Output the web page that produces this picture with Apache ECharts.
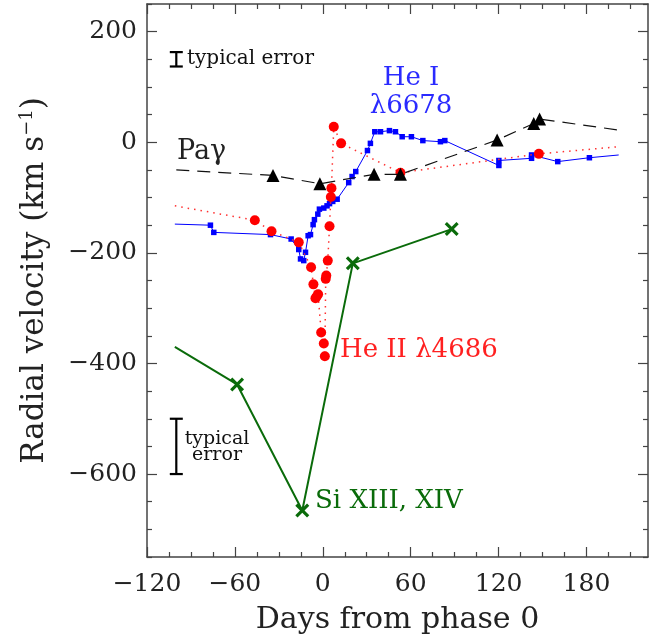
<!DOCTYPE html>
<html>
<head>
<meta charset="utf-8">
<script src="https://cdn.jsdelivr.net/npm/echarts@6/dist/echarts.min.js"></script>
<style>html,body{margin:0;padding:0;background:#fff}#c{width:654px;height:641px}</style>
</head>
<body>
<div id="c"></div>
<script>
// ---- Data (days from phase 0, radial velocity km/s) ----
// Pa gamma (black triangles) + dashed line end points
const paDays = [-34, -2, 35, 53, 119, 144, 148];
const paVel  = [-60, -75, -58, -58, 4, 34, 42];
const paStart = [-100, -50];
const paEnd   = [202, 22];

// He I 6678 (blue squares)
const heIDays = [-76.7, -74.4, -35.7, -21.6, -16.4, -15.2, -13, -11.8, -10, -8.4, -6.6, -5.7, -3.4, -2.3, 0.7, 2.9, 4.6, 6.8, 9.8, 17.7, 20, 22.5, 30.5, 32.5, 35.5, 39.4, 45.5, 49.6, 54.2, 60.5, 68.3, 80.3, 83.3, 120.2, 120.2, 142.5, 142.5, 160.4, 182];
const heIVel  = [-150, -163, -167, -175, -194, -211, -214, -199, -169, -167, -149, -140, -130, -121, -119, -115, -111, -107, -103, -73, -62, -53, -15, -2, 19, 19, 21, 19, 10, 10, 3, 1, 3, -42, -33, -29, -23, -35, -28];
const heIStart = [-101, -148];
const heIEnd   = [202, -23];

// He II 4686 (red circles)
const heIIDays = [-46.4, -35, -16.4, -8, -6.4, -5, -4.2, -3.2, -1.1, 0.7, 1.4, 2.0, 2.4, 3.4, 4.6, 5.5, 5.9, 7.5, 12.5, 53, 147.5];
const heIIVel  = [-141, -161, -181, -226, -257, -282, -279, -275, -344, -364, -387, -247, -241, -214, -152, -99, -83, 28, -2, -55, -21];
const heIIStart = [-101, -115];
const heIIEnd   = [202, -8];

// Si XIII, XIV (green crosses)
const siDays = [-58.5, -14, 20.5, 88];
const siVel  = [-438, -666, -219, -157];
const siStart = [-101, -370];

// Typical error bars: [day, low, high]
const errBars = [[-100, 137, 163], [-100, -600, -500]];

// Axis ticks
const xTickLabels = [-120, -60, 0, 60, 120, 180];
const yTickLabels = [-600, -400, -200, 0, 200];
const xMin = -120, xMax = 222, yMin = -750, yMax = 250;

// ---- Build ----
const FONT = 'DejaVu Serif';
const AX = '#444';
function fmt(v){ return v < 0 ? '\u2212' + Math.abs(v) : String(v); }
const xMinor = [], yMinor = [];
for (let v = -120; v <= 220; v += 15) if (xTickLabels.indexOf(v) < 0) xMinor.push(v);
for (let v = -750; v <= 250; v += 50) if (yTickLabels.indexOf(v) < 0) yMinor.push(v);

function withEnds(start, days, vals, end){
  const d = [];
  if (start) d.push({value: start, symbol: 'none'});
  days.forEach((x, i) => d.push([x, vals[i]]));
  if (end) d.push({value: end, symbol: 'none'});
  return d;
}

function xAx(pos, major, showLabel, showLine, name){
  return {
    type: 'value', position: pos, min: xMin, max: xMax, gridIndex: 0,
    splitLine: {show: false},
    axisLine: {show: showLine, onZero: false, lineStyle: {color: AX, width: 1.5}},
    axisTick: {show: true, inside: true, length: major ? 10 : 5, customValues: major ? xTickLabels : xMinor, lineStyle: {color: AX, width: 1.2}},
    axisLabel: {show: showLabel, customValues: xTickLabels, formatter: fmt, fontFamily: FONT, fontSize: 25, color: '#222', margin: 15},
    name: name || '', nameLocation: 'middle', nameGap: 48,
    nameTextStyle: {fontFamily: FONT, fontSize: 30, color: '#222'}
  };
}
function yAx(pos, major, showLabel, showLine, name){
  return {
    type: 'value', position: pos, min: yMin, max: yMax, gridIndex: 0,
    splitLine: {show: false},
    axisLine: {show: showLine, onZero: false, lineStyle: {color: AX, width: 1.5}},
    axisTick: {show: true, inside: true, length: major ? 10 : 5, customValues: major ? yTickLabels : yMinor, lineStyle: {color: AX, width: 1.2}},
    axisLabel: {show: showLabel, customValues: yTickLabels, formatter: fmt, fontFamily: FONT, fontSize: 25, color: '#222', margin: 10},
    name: name || '', nameLocation: 'middle', nameGap: 96, nameRotate: 90,
    nameTextStyle: {fontFamily: FONT, fontSize: 31, color: '#222', rich: {sup: {fontFamily: FONT, fontSize: 18, color: '#222', padding: [0, 0, 15, 0]}}}
  };
}

const crossPath = 'path://M0,1.6 L1.6,0 L5,3.4 L8.4,0 L10,1.6 L6.6,5 L10,8.4 L8.4,10 L5,6.6 L1.6,10 L0,8.4 L3.4,5 Z';

const option = {
  animation: false,
  backgroundColor: '#fff',
  grid: {left: 147, right: 6, top: 4, bottom: 84, containLabel: false},
  xAxis: [
    xAx('bottom', true, true, true, 'Days from phase 0'),
    xAx('bottom', false, false, false),
    xAx('top', true, false, true),
    xAx('top', false, false, false)
  ],
  yAxis: [
    yAx('left', true, true, true, 'Radial velocity (km s{sup|\u22121})'),
    yAx('left', false, false, false),
    yAx('right', true, false, true),
    yAx('right', false, false, false)
  ],
  series: [
    {
      name: 'Si XIII, XIV', type: 'line', data: withEnds(siStart, siDays, siVel, null),
      symbol: crossPath, symbolSize: 14, itemStyle: {color: '#0a6b0a'},
      lineStyle: {color: '#0a6b0a', width: 2}, z: 2
    },
    {
      name: 'He I', type: 'line', data: withEnds(heIStart, heIDays, heIVel, heIEnd),
      symbol: 'rect', symbolSize: 5.5, itemStyle: {color: '#0000ff'},
      lineStyle: {color: '#0000ff', width: 1}, z: 3
    },
    {
      name: 'He II', type: 'line', data: withEnds(heIIStart, heIIDays, heIIVel, heIIEnd),
      symbol: 'circle', symbolSize: 10, itemStyle: {color: '#ff0000'},
      lineStyle: {color: '#ff3030', width: 1.5, type: [1.5, 5]}, z: 4
    },
    {
      name: 'Pa gamma', type: 'line', data: withEnds(paStart, paDays, paVel, paEnd),
      symbol: 'triangle', symbolSize: 13, itemStyle: {color: '#000'},
      lineStyle: {color: '#111', width: 1.2, type: [13, 8]}, z: 5
    },
    {
      name: 'errors', type: 'custom', data: errBars, z: 6,
      renderItem: function(params, api){
        const x = api.value(0), lo = api.value(1), hi = api.value(2);
        const a = api.coord([x, lo]), b = api.coord([x, hi]);
        const w = 6.5, st = {stroke: '#000', lineWidth: 2.2};
        return {type: 'group', children: [
          {type: 'line', shape: {x1: a[0], y1: a[1], x2: b[0], y2: b[1]}, style: st},
          {type: 'line', shape: {x1: a[0]-w, y1: a[1], x2: a[0]+w, y2: a[1]}, style: st},
          {type: 'line', shape: {x1: b[0]-w, y1: b[1], x2: b[0]+w, y2: b[1]}, style: st}
        ]};
      }
    }
  ],
  graphic: [
    {type: 'text', x: 177, y: 152, style: {text: 'Pa\u03b3', fontFamily: FONT, fontSize: 27, fill: '#222', verticalAlign: 'middle'}},
    {type: 'text', x: 411, y: 78, style: {text: 'He I', fontFamily: FONT, fontSize: 26, fill: '#2a2aff', align: 'center', verticalAlign: 'middle'}},
    {type: 'text', x: 411, y: 106, style: {text: '\u03bb6678', fontFamily: FONT, fontSize: 26, fill: '#2a2aff', align: 'center', verticalAlign: 'middle'}},
    {type: 'text', x: 340, y: 350, style: {text: 'He II \u03bb4686', fontFamily: FONT, fontSize: 26, fill: '#ff2020', verticalAlign: 'middle'}},
    {type: 'text', x: 315, y: 501, style: {text: 'Si XIII, XIV', fontFamily: FONT, fontSize: 26, fill: '#0a6b0a', verticalAlign: 'middle'}},
    {type: 'text', x: 187, y: 59, style: {text: 'typical error', fontFamily: FONT, fontSize: 20, fill: '#111', verticalAlign: 'middle'}},
    {type: 'text', x: 217, y: 439, style: {text: 'typical', fontFamily: FONT, fontSize: 19, fill: '#111', align: 'center', verticalAlign: 'middle'}},
    {type: 'text', x: 217, y: 455, style: {text: 'error', fontFamily: FONT, fontSize: 19, fill: '#111', align: 'center', verticalAlign: 'middle'}}
  ]
};

const chart = echarts.init(document.getElementById('c'), null, {renderer: 'canvas'});
chart.setOption(option);
</script>
</body>
</html>
